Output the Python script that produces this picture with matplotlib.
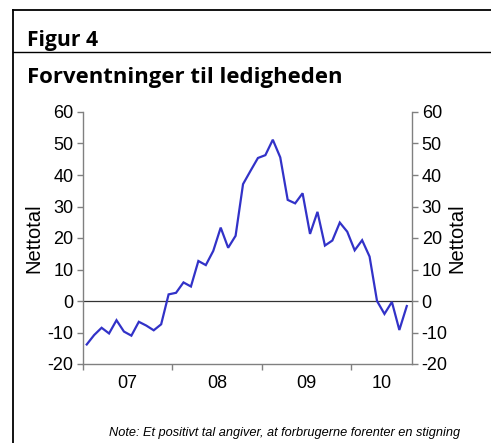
import matplotlib
matplotlib.use("Agg")
import matplotlib.pyplot as plt
from matplotlib.lines import Line2D

# Monthly values, Jan 2007 - Aug 2010
values = [-13.8, -10.8, -8.5, -10.3, -6.1, -9.7, -11.0, -6.6, -7.8, -9.3, -7.4, 2.1,
          2.6, 5.9, 4.6, 12.7, 11.4, 15.9, 23.3, 16.9, 20.7, 37.1, 41.3, 45.4,
          46.3, 51.2, 45.6, 32.1, 31.0, 34.2, 21.3, 28.3, 17.6, 19.2, 24.9, 22.0,
          16.1, 19.3, 14.1, 0.0, -4.1, -0.3, -9.2, -1.6]
year_labels = ["07", "08", "09", "10"]
y_ticks = [-20, -10, 0, 10, 20, 30, 40, 50, 60]

title_top = "Figur 4"
title = "Forventninger til ledigheden"
ylabel = "Nettotal"
note = "Note: Et positivt tal angiver, at forbrugerne forenter en stigning"

W, H = 491, 443
fig = plt.figure(figsize=(W / 100, H / 100), dpi=100)

def fx(px):
    return px / W

def fy(py):
    return 1 - py / H

# frame lines
fig.add_artist(Line2D([fx(12.5), fx(12.5)], [fy(10), fy(443)], color="black", lw=1.3, transform=fig.transFigure))
fig.add_artist(Line2D([fx(12.5), 1], [fy(10), fy(10)], color="black", lw=1.3, transform=fig.transFigure))
fig.add_artist(Line2D([fx(12.5), 1], [fy(52), fy(52)], color="black", lw=1.0, transform=fig.transFigure))

tfont = ["Open Sans", "DejaVu Sans"]
fig.text(fx(27), fy(46), title_top, fontsize=15.2, fontweight="bold", family=tfont, va="baseline", ha="left")
fig.text(fx(27), fy(83), title, fontsize=15.9, fontweight="bold", family=tfont, va="baseline", ha="left")

left, right, top, bottom = 83, 412, 112, 364
ax = fig.add_axes([fx(left), fy(bottom), fx(right) - fx(left), fy(top) - fy(bottom)])

x = [i + 0.5 for i in range(len(values))]
ax.plot(x, values, color="#3232c8", lw=1.6, solid_joinstyle="miter", zorder=3)
ax.axhline(0, color="#333333", lw=0.9, zorder=1)

ax.set_xlim(0, 44.2)
ax.set_ylim(-20, 60)

gray = "#808080"
ax.spines["top"].set_visible(False)
for s in ["left", "right", "bottom"]:
    ax.spines[s].set_color(gray)
    ax.spines[s].set_linewidth(1.0)

tick_font = ["Liberation Sans", "DejaVu Sans"]
ax.set_yticks(y_ticks)
ax.set_yticklabels([str(v) for v in y_ticks], family=tick_font, fontsize=13)
ax.tick_params(axis="y", direction="out", length=4, color=gray, width=1.0, pad=3)

ax.set_xticks([0, 12, 24, 36])
ax.set_xticklabels([])
ax.tick_params(axis="x", which="major", direction="out", length=4, color=gray, width=1.0)
ax.set_xticks([6, 18, 30, 40.1], minor=True)
ax.set_xticklabels(year_labels, minor=True, family=tick_font, fontsize=13)
ax.tick_params(axis="x", which="minor", length=0, pad=8)

ax.set_ylabel(ylabel, family=tick_font, fontsize=14.5, labelpad=3)

ax2 = ax.twinx()
ax2.set_ylim(-20, 60)
ax2.set_yticks(y_ticks)
ax2.set_yticklabels([str(v) for v in y_ticks], family=tick_font, fontsize=13)
ax2.tick_params(axis="y", direction="out", length=4, color=gray, width=1.0, pad=3)
for s in ax2.spines.values():
    s.set_visible(False)
ax2.set_ylabel(ylabel, family=tick_font, fontsize=14.5, rotation=90, labelpad=0)

fig.text(fx(460), fy(433), note, fontsize=9.2, style="italic",
         family=["Liberation Sans Narrow", "Liberation Sans", "DejaVu Sans"], ha="right", va="center")

fig.savefig("out.png", dpi=100)
